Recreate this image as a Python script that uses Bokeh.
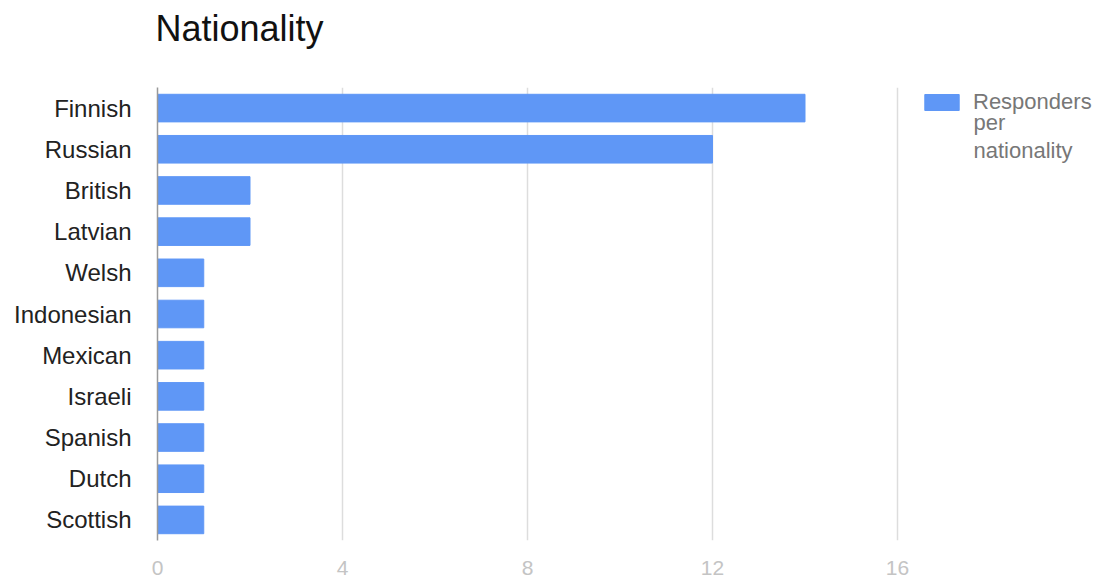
from bokeh.plotting import figure
from bokeh.models import ColumnDataSource, FactorRange, Range1d, FixedTicker, Legend, LegendItem, Label, Title
from bokeh.embed import file_html
from bokeh.resources import INLINE

categories = ["Finnish", "Russian", "British", "Latvian", "Welsh", "Indonesian",
              "Mexican", "Israeli", "Spanish", "Dutch", "Scottish"]
responders = [14, 12, 2, 2, 1, 1, 1, 1, 1, 1, 1]
x_ticks = [0, 4, 8, 12, 16]
title_text = "Nationality"
series_name = ["Responders", "per", "nationality"]

FONT = "Liberation Sans"
BLUE = "#5f97f6"

src = ColumnDataSource(dict(cat=categories, val=responders))

# frame spans 157..1100 px; axis 0..16 occupies 157..897 px
p = figure(width=1106, height=577, output_backend="svg", toolbar_location=None,
           y_range=FactorRange(*categories[::-1], range_padding=0),
           x_range=Range1d(0, 16 * 943 / 740),
           min_border_left=157, min_border_right=6, min_border_top=87, min_border_bottom=34)

r = p.hbar(y="cat", right="val", left=0, height=0.67, source=src, color=BLUE, line_color=BLUE)

# spacer between the frame and the title
p.add_layout(Title(text=" ", text_font_size="1px", standoff=36), "above")

p.title.text = title_text
p.title.text_font = FONT
p.title.text_font_size = "36px"
p.title.text_font_style = "normal"
p.title.text_color = "#111111"
p.title.align = "left"
p.title.offset = -2
p.title.standoff = 0

p.outline_line_color = None
p.ygrid.grid_line_color = None
p.xgrid.grid_line_color = "#dddddd"
p.xgrid.grid_line_width = 1.5
p.xaxis.ticker = FixedTicker(ticks=x_ticks)
p.xaxis.axis_line_color = None
p.xaxis.major_tick_line_color = None
p.xaxis.minor_tick_line_color = None
p.xaxis.major_label_text_font = FONT
p.xaxis.major_label_text_font_size = "21px"
p.xaxis.major_label_text_color = "#c4c4c4"
p.xaxis.major_label_standoff = 14

p.yaxis.axis_line_color = "#999999"
p.yaxis.axis_line_width = 1.5
p.yaxis.major_tick_line_color = None
p.yaxis.minor_tick_line_color = None
p.yaxis.major_label_text_font = FONT
p.yaxis.major_label_text_font_size = "24px"
p.yaxis.major_label_text_color = "#222222"
p.yaxis.major_label_standoff = 20

legend = Legend(items=[LegendItem(label=series_name[0], renderers=[r])],
                location=(763, 456 - 31), orientation="vertical",
                glyph_width=43, glyph_height=20,
                label_text_font=FONT, label_text_font_size="22px",
                label_text_color="#777777", label_height=20, label_text_line_height=1.0,
                label_standoff=10, padding=0, margin=0, spacing=0,
                border_line_color=None, background_fill_alpha=0)
p.add_layout(legend, "center")

for txt, yy in ((series_name[1], 418), (series_name[2], 390)):
    p.add_layout(Label(x=816, y=yy, x_units="screen", y_units="screen",
                       text=txt, text_font=FONT, text_font_size="22px",
                       text_color="#777777", text_baseline="middle"))

open("out.html", "w").write(file_html(p, INLINE))
